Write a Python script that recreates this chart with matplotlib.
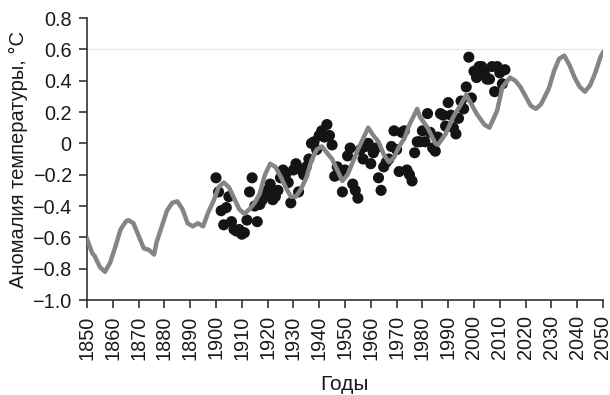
import numpy as np
import matplotlib
matplotlib.use("Agg")
import matplotlib.pyplot as plt

# DATA
# observed annual anomalies (black dots)
obs_years = list(range(1900, 2013))
obs_vals = [-0.22, -0.31, -0.43, -0.52, -0.41, -0.34, -0.50, -0.55, -0.56, -0.55,
            -0.58, -0.57, -0.49, -0.31, -0.22, -0.40, -0.50, -0.39, -0.36, -0.32,
            -0.30, -0.26, -0.36, -0.34, -0.30, -0.22, -0.17, -0.20, -0.25, -0.38,
            -0.17, -0.13, -0.31, -0.17, -0.20, -0.15, -0.10, 0.00, 0.01, -0.04,
            0.05, 0.08, 0.04, 0.12, 0.05, -0.01, -0.21, -0.15, -0.20, -0.31,
            -0.17, -0.08, -0.03, -0.26, -0.30, -0.35, -0.04, -0.10, -0.02, 0.00,
            -0.13, -0.06, -0.03, -0.22, -0.30, -0.15, -0.12, -0.10, -0.02, 0.08,
            -0.04, -0.18, 0.07, 0.08, -0.17, -0.20, -0.24, -0.06, 0.01, 0.01,
            0.08, 0.01, 0.19, 0.07, -0.03, -0.05, 0.04, 0.19, 0.18, 0.11,
            0.26, 0.18, 0.10, 0.06, 0.16, 0.27, 0.22, 0.36, 0.55, 0.29,
            0.46, 0.42, 0.49, 0.49, 0.45, 0.41, 0.41, 0.49, 0.33, 0.49,
            0.45, 0.38, 0.47]

# model curve (gray line)
mod_years = [1850, 1852, 1853, 1855, 1857, 1859, 1861, 1863, 1865, 1866, 1868, 1870,
             1872, 1874, 1876, 1877, 1879, 1881, 1883, 1885, 1887, 1889, 1891, 1893,
             1895, 1897, 1899, 1901, 1903, 1905, 1907, 1909, 1911, 1913, 1915, 1917,
             1919, 1921, 1923, 1925, 1927, 1929, 1931, 1933, 1935, 1937, 1939, 1941,
             1943, 1945, 1947, 1949, 1951, 1953, 1955, 1957, 1959, 1961, 1963, 1965,
             1967, 1969, 1971, 1973, 1975, 1978, 1979, 1982, 1985, 1986, 1989, 1992,
             1995, 1997, 1999, 2001, 2004, 2006, 2009, 2011, 2014, 2016, 2018, 2020,
             2022, 2024, 2026, 2029, 2031, 2033, 2035, 2037, 2039, 2041, 2043, 2045,
             2047, 2049, 2050]
mod_vals = [-0.61, -0.70, -0.72, -0.79, -0.82, -0.76, -0.66, -0.55, -0.50, -0.49, -0.51, -0.59,
            -0.67, -0.68, -0.71, -0.63, -0.53, -0.43, -0.38, -0.37, -0.42, -0.51, -0.53, -0.51,
            -0.53, -0.44, -0.37, -0.28, -0.25, -0.28, -0.35, -0.42, -0.45, -0.42, -0.38, -0.32,
            -0.20, -0.13, -0.15, -0.21, -0.28, -0.34, -0.34, -0.29, -0.22, -0.11, -0.04, -0.02,
            -0.06, -0.10, -0.17, -0.24, -0.20, -0.12, -0.04, 0.03, 0.10, 0.05, 0.01, -0.07,
            -0.12, -0.09, -0.02, 0.03, 0.12, 0.22, 0.17, 0.10, 0.00, -0.01, 0.06, 0.17,
            0.25, 0.31, 0.25, 0.19, 0.12, 0.10, 0.21, 0.36, 0.42, 0.40, 0.36, 0.30,
            0.24, 0.22, 0.25, 0.35, 0.46, 0.54, 0.56, 0.50, 0.42, 0.36, 0.33, 0.37,
            0.45, 0.55, 0.58]

x_ticks = list(range(1850, 2051, 10))
y_ticks = [0.8, 0.6, 0.4, 0.2, 0.0, -0.2, -0.4, -0.6, -0.8, -1.0]
y_labels = ["0.8", "0.6", "0.4", "0.2", "0", "\u22120.2", "\u22120.4", "\u22120.6", "\u22120.8", "\u22121.0"]

# PLOT
plt.rcParams["font.family"] = ["Liberation Sans", "DejaVu Sans"]
fig = plt.figure(figsize=(6.1, 3.95), dpi=100)
ax = fig.add_axes([0.1426, 0.2405, 0.8459, 0.7139])

ax.axhline(0.6, color="#e6e6e6", lw=0.8, zorder=0)
ax.scatter(obs_years, obs_vals, s=64, color="#141414", edgecolors="none", zorder=2)
ax.plot(mod_years, mod_vals, color="#858585", lw=3.2, zorder=3, solid_joinstyle="round")

ax.set_xlim(1850, 2050)
ax.set_ylim(-1.0, 0.8)
ax.set_xticks(x_ticks)
ax.set_xticklabels([str(t) for t in x_ticks], rotation=90)
ax.set_yticks(y_ticks)
ax.set_yticklabels(y_labels)

for s in ["top", "right"]:
    ax.spines[s].set_visible(False)
for s in ["left", "bottom"]:
    ax.spines[s].set_color("#333333")
    ax.spines[s].set_linewidth(1.2)
ax.tick_params(axis="both", colors="#333333", width=1.2, length=6, labelsize=14.3,
               labelcolor="#1a1a1a", pad=5)

ax.set_ylabel("Аномалия температуры, °C", fontsize=14.5, color="#1a1a1a", labelpad=3)
ax.set_xlabel("Годы", fontsize=15, color="#1a1a1a", labelpad=11)

fig.savefig("out.png", dpi=100)
